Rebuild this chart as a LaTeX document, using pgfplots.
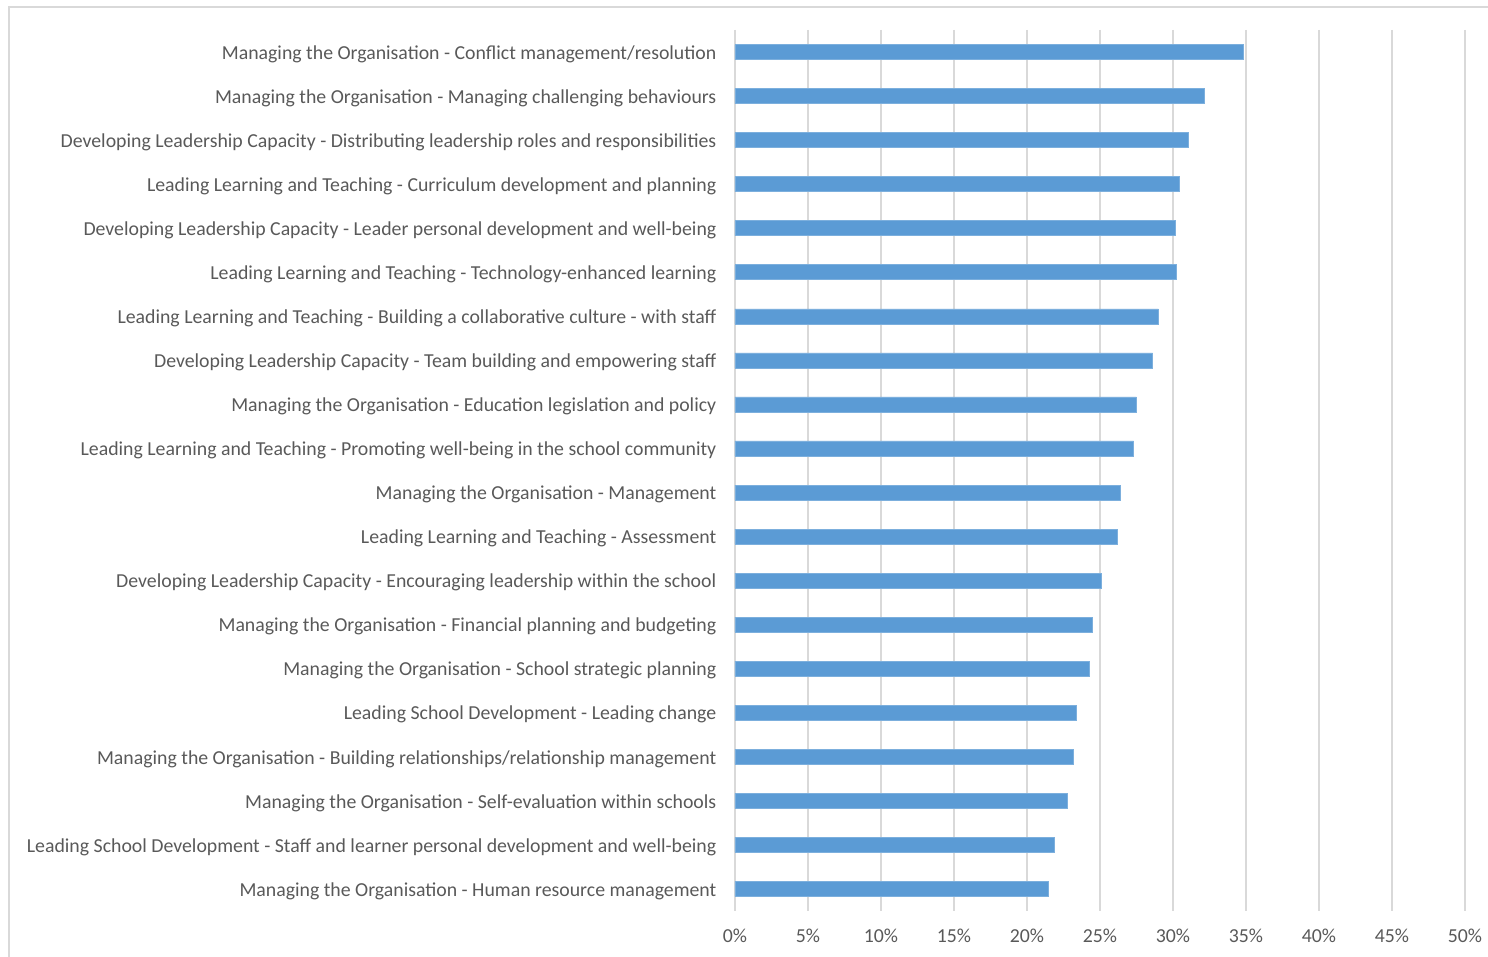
\documentclass[border=0pt]{standalone}
\usepackage{pgfplots}
\pgfplotsset{compat=1.18}
\usepackage{fontspec}
\setmainfont{Carlito}
\definecolor{barblue}{HTML}{5B9BD5}
\definecolor{gridgray}{HTML}{D9D9D9}
\definecolor{txtgray}{HTML}{595959}
\begin{document}
\begin{tikzpicture}
\path[use as bounding box] (-367.5pt,-23pt) rectangle (376.5pt,455.5pt);
\draw[gridgray, line width=1pt] (-363pt,-40pt) -- (-363pt,452pt) -- (400pt,452pt);
\begin{axis}[
  at={(0,0)}, anchor=south west,
  scale only axis,
  width=365pt, height=440.5pt,
  xbar, bar width=7.5pt,
  xmin=0, xmax=50,
  ymin=-0.5, ymax=19.5,
  y dir=reverse,
  xtick={0,5,...,50},
  xticklabels={0\%,5\%,10\%,15\%,20\%,25\%,30\%,35\%,40\%,45\%,50\%},
  ytick={0,...,19},
  yticklabels={
    Managing the Organisation - Conflict management/resolution,
    Managing the Organisation - Managing challenging behaviours,
    Developing Leadership Capacity - Distributing leadership roles and responsibilities,
    Leading Learning and Teaching - Curriculum development and planning,
    Developing Leadership Capacity - Leader personal development and well-being,
    Leading Learning and Teaching - Technology-enhanced learning,
    Leading Learning and Teaching - Building a collaborative culture - with staff,
    Developing Leadership Capacity - Team building and empowering staff,
    Managing the Organisation - Education legislation and policy,
    Leading Learning and Teaching - Promoting well-being in the school community,
    Managing the Organisation - Management,
    Leading Learning and Teaching - Assessment,
    Developing Leadership Capacity - Encouraging leadership within the school,
    Managing the Organisation - Financial planning and budgeting,
    Managing the Organisation - School strategic planning,
    Leading School Development - Leading change,
    Managing the Organisation - Building relationships/relationship management,
    Managing the Organisation - Self-evaluation within schools,
    Leading School Development - Staff and learner personal development and well-being,
    Managing the Organisation - Human resource management},
  xmajorgrids, ymajorgrids=false,
  major grid style={gridgray, line width=0.75pt},
  axis line style={draw=none},
  major tick length=0pt,
  tick label style={font=\fontsize{9.9}{11.5}\selectfont, text=txtgray},
  yticklabel style={xshift=-5.8pt, yshift=-1pt},
  xticklabel style={yshift=-5.5pt},
]
\addplot[fill=barblue, draw=barblue!80!white, line width=0.3pt] coordinates {
(34.8,0) (32.15,1) (31.07,2) (30.4,3) (30.18,4) (30.2,5) (29.0,6) (28.6,7)
(27.5,8) (27.3,9) (26.4,10) (26.2,11) (25.1,12) (24.5,13) (24.25,14)
(23.4,15) (23.2,16) (22.75,17) (21.9,18) (21.45,19)};
\end{axis}
\end{tikzpicture}
\end{document}
